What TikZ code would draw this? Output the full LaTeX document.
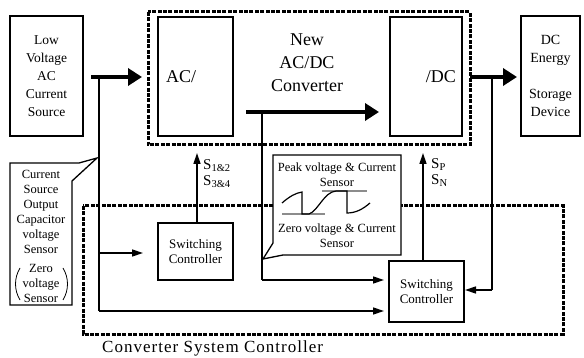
\documentclass[tikz,border=0pt]{standalone}
\usepackage{fontspec}
\setmainfont{Liberation Serif}
\usetikzlibrary{arrows.meta}
\begin{document}
\begin{tikzpicture}[x=1pt,y=-1pt,
 box/.style={draw, line width=1.3pt, inner sep=0pt, fill=white},
 wire/.style={line width=1.4pt},
 big/.style={line width=3.8pt, -{Triangle[length=14pt,width=17pt]}},
 sarrow/.style={line width=1.4pt, -{Triangle[length=11pt,width=7pt]}},
 dashbox/.style={line width=3pt, dash pattern=on 4pt off 1.4pt},
 lbl/.style={inner sep=0pt, align=center},
 gray line/.style={line width=1.2pt, draw=black!45}]
\useasboundingbox (0,0) rectangle (584,358);

% dashed frames
\draw[dashbox] (148,12) rectangle (470,145);
\draw[dashbox] (83,206) rectangle (563,334);

% main boxes
\node[box, minimum width=73pt, minimum height=120pt, lbl,
  font=\fontsize{13.5}{18}\selectfont] (src) at (46.5,76)
  {Low\\Voltage\\AC\\Current\\Source};
\node[box, minimum width=75pt, minimum height=119pt] (acbox) at (195.5,76.5) {};
\node[box, minimum width=72pt, minimum height=119pt] (dcbox) at (426,76.5) {};
\node[box, minimum width=59pt, minimum height=120pt, lbl,
  font=\fontsize{14}{18}\selectfont] (dst) at (550.5,76)
  {DC\\Energy\\ \\Storage\\Device};
\node[lbl, anchor=west, font=\fontsize{18}{22}\selectfont] (actxt) at (166,77) {AC/};
\node[lbl, anchor=east, font=\fontsize{18}{22}\selectfont] (dctxt) at (456,77) {/DC};
\node[lbl, font=\fontsize{18}{23}\selectfont] (newconv) at (307,63) {New\\AC/DC\\Converter};

% switching controllers
\node[box, minimum width=75pt, minimum height=57pt, lbl,
  font=\fontsize{13}{14.5}\selectfont] (sc1) at (195.5,251.5) {Switching\\Controller};
\node[box, minimum width=75pt, minimum height=61pt, lbl,
  font=\fontsize{13}{14.5}\selectfont] (sc2) at (426.5,291.5) {Switching\\Controller};

% junction coordinates
\coordinate (a0) at (91,77);
\coordinate (a1) at (142,77);
\coordinate (j1) at (99,77);
\coordinate (j2) at (99,253);
\coordinate (j3) at (99,311);
\coordinate (t1) at (143,253);
\coordinate (t2) at (384,311);
\coordinate (b0) at (246,112);
\coordinate (b1) at (379,112);
\coordinate (k1) at (262,112);
\coordinate (k2) at (262,280);
\coordinate (t3) at (384,280);
\coordinate (c0) at (470,77);
\coordinate (c1) at (517,77);
\coordinate (m1) at (492,77);
\coordinate (m2) at (492,290);
\coordinate (t4) at (465,290);
\coordinate (u1) at (197,153);
\coordinate (u1s) at (197,223);
\coordinate (u2) at (423,153);
\coordinate (u2s) at (423,261);

% thick power arrows
\draw[big] (a0) -- (a1);
\draw[big] (b0) -- (b1);
\draw[big] (c0) -- (c1);

% sensor wires
\draw[wire] (j1) -- (j3);
\draw[sarrow] (j3) -- (t2);
\draw[sarrow] (j2) -- (t1);
\draw[wire] (k1) -- (k2);
\draw[sarrow] (k2) -- (t3);
\draw[wire] (m1) -- (m2);
\draw[sarrow] (m2) -- (t4);

% gate signal arrows
\draw[sarrow] (u1s) -- (u1);
\draw[sarrow] (u2s) -- (u2);
\node[lbl, anchor=west, font=\fontsize{15}{18}\selectfont] (s12) at (203,174)
  {\begin{tabular}{@{}l@{}}S$_{\mathrm{1\&2}}$\\[-2pt]S$_{\mathrm{3\&4}}$\end{tabular}};
\node[lbl, anchor=west, font=\fontsize{15}{18}\selectfont] (spn) at (431,173)
  {\begin{tabular}{@{}l@{}}S$_{\mathrm{P}}$\\[-2pt]S$_{\mathrm{N}}$\end{tabular}};

% left callout
\draw[line width=1.3pt, fill=white] (10,163) -- (79,163) -- (97,158) -- (72,181)
  -- (72,305) -- (10,305) -- cycle;
\node[lbl, font=\fontsize{12.5}{15}\selectfont] (cs) at (41,211.5)
  {Current\\Source\\Output\\Capacitor\\voltage\\Sensor};
\node[lbl, font=\fontsize{12.5}{15}\selectfont] (zs) at (41,283.5)
  {Zero\\voltage\\Sensor};
\draw[line width=0.8pt] (20,268) .. controls (14,278) and (14,290) .. (20,300);
\draw[line width=0.8pt] (63,268) .. controls (69,278) and (69,290) .. (63,300);

% right callout
\draw[line width=1.3pt, fill=white] (273,155) -- (401,155) -- (401,255) -- (283,255)
  -- (263,259) -- (273,243) -- cycle;
\node[lbl, font=\fontsize{12.5}{15}\selectfont] (pk) at (337,175)
  {Peak voltage \& Current\\Sensor};
\node[lbl, font=\fontsize{12.5}{15}\selectfont] (zv) at (337,236)
  {Zero voltage \& Current\\Sensor};
\draw[gray line] (282,214) -- (325,214);
\draw[gray line] (322,191) -- (367,191);
\draw[line width=1.2pt] (282,203) .. controls (290,196) and (296,193) .. (302,192)
  -- (302,214) -- (309,214) .. controls (318,211) and (324,192) .. (336,191)
  -- (347,191) -- (347,213) .. controls (356,213) and (363,209) .. (370,203);

% controller label
\node[lbl, anchor=west, font=\fontsize{17}{20}\selectfont] (csc) at (102,348)
  {\addfontfeature{LetterSpace=6}Converter System Controller};
\end{tikzpicture}
\end{document}
